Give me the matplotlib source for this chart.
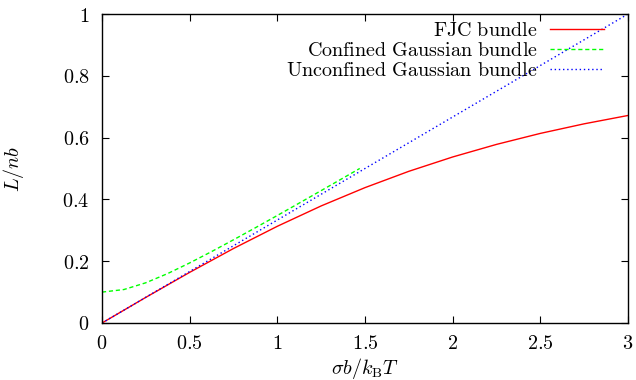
import matplotlib
matplotlib.use("Agg")
import matplotlib.pyplot as plt

plt.rcParams['mathtext.fontset'] = 'cm'
plt.rcParams['font.family'] = ['DejaVu Serif']

# FJC bundle (red solid)
fjc_x = [0.0, 0.25, 0.5, 0.75, 1.0, 1.25, 1.5, 1.75, 2.0, 2.25, 2.5, 2.75, 3.0]
fjc_y = [0.0, 0.0830, 0.1639, 0.2411, 0.3130, 0.3789, 0.4381, 0.4909, 0.5373, 0.5780, 0.6136, 0.6446, 0.6716]

# Confined Gaussian bundle (green dashed)
conf_x = [0.0, 0.125, 0.25, 0.375, 0.5, 0.625, 0.75, 0.875, 1.0, 1.125, 1.25, 1.375, 1.47]
conf_y = [0.1, 0.1083, 0.1302, 0.1601, 0.1944, 0.2311, 0.2693, 0.3083, 0.3480, 0.3881, 0.4285, 0.4691, 0.5001]

# Unconfined Gaussian bundle (blue dotted)
unconf_x = [0.0, 3.0]
unconf_y = [0.0, 1.0]

labels = [r'$\mathrm{FJC\ bundle}$', r'$\mathrm{Confined\ Gaussian\ bundle}$',
          r'$\mathrm{Unconfined\ Gaussian\ bundle}$']
xticks = [0, 0.5, 1, 1.5, 2, 2.5, 3]
xtick_labels = ['$0$', '$0.5$', '$1$', '$1.5$', '$2$', '$2.5$', '$3$']
yticks = [0, 0.2, 0.4, 0.6, 0.8, 1]
ytick_labels = ['$0$', '$0.2$', '$0.4$', '$0.6$', '$0.8$', '$1$']

FS = 14.5

fig = plt.figure(figsize=(6.36, 3.80), dpi=100)
ax = fig.add_axes([102/636, 1-323/380, (628-102)/636, (323-14)/380])

ax.plot(fjc_x, fjc_y, color='#ff0000', lw=1.0, label=labels[0])
ax.plot(conf_x, conf_y, color='#00ff00', lw=1.0, dashes=(3, 2), label=labels[1])
ax.plot(unconf_x, unconf_y, color='#0000ff', lw=1.0, dashes=(1, 2), label=labels[2])

ax.set_xlim(0, 3)
ax.set_ylim(0, 1)
ax.set_xticks(xticks)
ax.set_xticklabels(xtick_labels)
ax.set_yticks(yticks)
ax.set_yticklabels(ytick_labels)
ax.tick_params(direction='in', top=True, right=True, length=5, width=0.8,
               labelsize=FS)
ax.tick_params(axis='x', pad=8)
ax.tick_params(axis='y', pad=9)
for s in ax.spines.values():
    s.set_linewidth(1.0)

ax.set_xlabel(r'$\sigma b/k_{\mathrm{B}}T$', fontsize=FS)
ax.xaxis.set_label_coords(0.5, -0.106)
ax.set_ylabel(r'$L/nb$', fontsize=FS)
ax.yaxis.set_label_coords(-0.144, 0.5)

leg = ax.legend(loc='upper right', bbox_to_anchor=(604/636, 1-21.5/380),
                bbox_transform=fig.transFigure, frameon=False, markerfirst=False,
                fontsize=FS, handlelength=2.7, handletextpad=0.6,
                labelspacing=0.03, borderpad=0, borderaxespad=0)

fig.savefig('out.png', dpi=100)
